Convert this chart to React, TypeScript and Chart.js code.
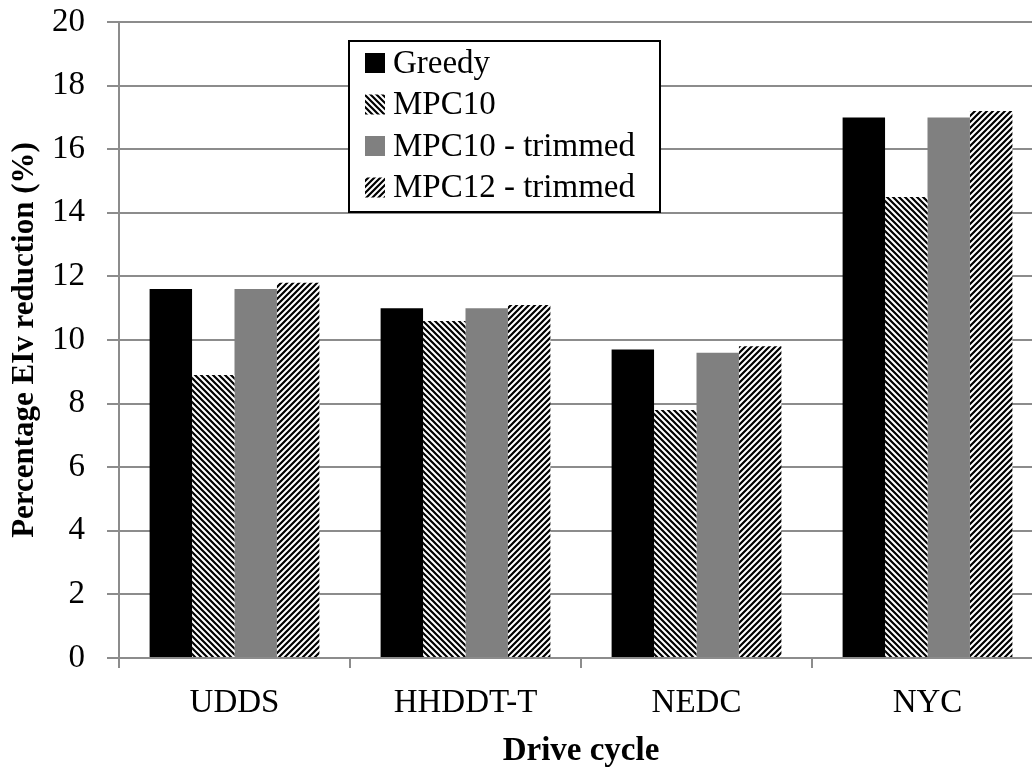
import React, { useEffect, useRef } from "react";
import { Chart, registerables } from "chart.js";

Chart.register(...registerables);

const categories = ["UDDS", "HHDDT-T", "NEDC", "NYC"];
const seriesNames = ["Greedy", "MPC10", "MPC10 - trimmed", "MPC12 - trimmed"];
const greedy = [11.6, 11.0, 9.7, 17.0];
const mpc10 = [8.9, 10.6, 7.8, 14.5];
const mpc10Trimmed = [11.6, 11.0, 9.6, 17.0];
const mpc12Trimmed = [11.8, 11.1, 9.8, 17.2];
const yTickValues = [0, 2, 4, 6, 8, 10, 12, 14, 16, 18, 20];
const xTitle = "Drive cycle";
const yTitle = "Percentage EIv reduction (%)";

const FONT = "'Liberation Serif', 'Times New Roman', serif";
const GRID = "#8c8c8c";

function stripePattern(dir: "down" | "up"): CanvasPattern | string {
  const s = 6;
  const c = document.createElement("canvas");
  c.width = s;
  c.height = s;
  const g = c.getContext("2d");
  if (!g) return "#444";
  g.fillStyle = "#fff";
  g.fillRect(0, 0, s, s);
  g.strokeStyle = "#000";
  g.lineWidth = 2.2;
  g.beginPath();
  for (let k = -2; k <= 3; k++) {
    if (dir === "down") {
      g.moveTo(k * s - s, -s);
      g.lineTo(k * s + 2 * s, 2 * s);
    } else {
      g.moveTo(k * s + s, -s);
      g.lineTo(k * s - 2 * s, 2 * s);
    }
  }
  g.stroke();
  const p = g.createPattern(c, "repeat");
  return p || "#444";
}

const boxLegendPlugin = {
  id: "boxLegend",
  afterDraw(chart: any, _args: any, opts: any) {
    const ctx = chart.ctx as CanvasRenderingContext2D;
    const { x, y, w, h, rowStart, rowGap, markerX, markerSize, textX, fontSize } = opts;
    ctx.save();
    ctx.fillStyle = "#fff";
    ctx.fillRect(x, y, w, h);
    ctx.strokeStyle = "#000";
    ctx.lineWidth = 2;
    ctx.strokeRect(x, y, w, h);
    ctx.font = `${fontSize}px ${FONT}`;
    ctx.textBaseline = "middle";
    ctx.textAlign = "left";
    chart.data.datasets.forEach((ds: any, i: number) => {
      const cy = rowStart + i * rowGap;
      ctx.fillStyle = ds.backgroundColor;
      ctx.fillRect(markerX, cy - markerSize / 2, markerSize, markerSize);
      ctx.fillStyle = "#000";
      ctx.fillText(ds.label, textX, cy + 1);
    });
    ctx.restore();
  },
};

export default function App() {
  const ref = useRef<HTMLCanvasElement | null>(null);

  useEffect(() => {
    if (!ref.current) return;
    const downPat = stripePattern("down");
    const upPat = stripePattern("up");
    const colors: any[] = ["#000000", downPat, "#808080", upPat];
    const values = [greedy, mpc10, mpc10Trimmed, mpc12Trimmed];

    const chart = new Chart(ref.current, {
      type: "bar",
      data: {
        labels: categories,
        datasets: seriesNames.map((name, i) => ({
          label: name,
          data: values[i],
          backgroundColor: colors[i],
          borderWidth: 0,
          barPercentage: 1,
          categoryPercentage: 0.735,
        })),
      },
      plugins: [boxLegendPlugin],
      options: {
        responsive: false,
        devicePixelRatio: 1,
        animation: false,
        layout: { padding: { top: 22, right: 3, left: 0, bottom: 0 } },
        plugins: {
          legend: { display: false },
          tooltip: { enabled: false },
          boxLegend: {
            x: 349,
            y: 41,
            w: 311,
            h: 171,
            rowStart: 63,
            rowGap: 41.5,
            markerX: 365,
            markerSize: 20,
            textX: 393,
            fontSize: 33,
          },
        } as any,
        scales: {
          x: {
            type: "category",
            offset: true,
            grid: {
              display: true,
              drawOnChartArea: false,
              offset: true,
              tickLength: 10,
              color: GRID,
              lineWidth: 2,
            },
            border: { display: true, color: GRID, width: 2 },
            ticks: {
              font: { family: FONT, size: 33 },
              color: "#000",
              padding: 16,
              maxRotation: 0,
            },
            title: {
              display: true,
              text: xTitle,
              font: { family: FONT, size: 33, weight: "bold" },
              color: "#000",
              padding: { top: 4, bottom: 0 },
            },
            afterFit: (s: any) => {
              s.height = 113;
            },
          },
          y: {
            min: 0,
            max: 20,
            afterBuildTicks: (s: any) => {
              s.ticks = yTickValues.map((v) => ({ value: v }));
            },
            ticks: {
              font: { family: FONT, size: 33 },
              color: "#000",
              padding: 22,
            },
            grid: {
              color: GRID,
              lineWidth: 2,
              tickLength: 12,
            },
            border: { display: true, color: GRID, width: 2 },
            title: {
              display: true,
              text: yTitle,
              font: { family: FONT, size: 31, weight: "bold" },
              color: "#000",
              padding: { top: 6, bottom: 0 },
            },
            afterFit: (s: any) => {
              s.width = 119;
              s.paddingTop = 0;
              s.paddingBottom = 0;
            },
          },
        },
      } as any,
    });
    return () => chart.destroy();
  }, []);

  return (
    <div
      style={{
        position: "absolute",
        left: 0,
        top: 0,
        width: 1032,
        height: 771,
        overflow: "hidden",
        background: "#fff",
      }}
    >
      <canvas
        ref={ref}
        width={1046}
        height={771}
        style={{ display: "block", width: 1046, height: 771 }}
      />
    </div>
  );
}
